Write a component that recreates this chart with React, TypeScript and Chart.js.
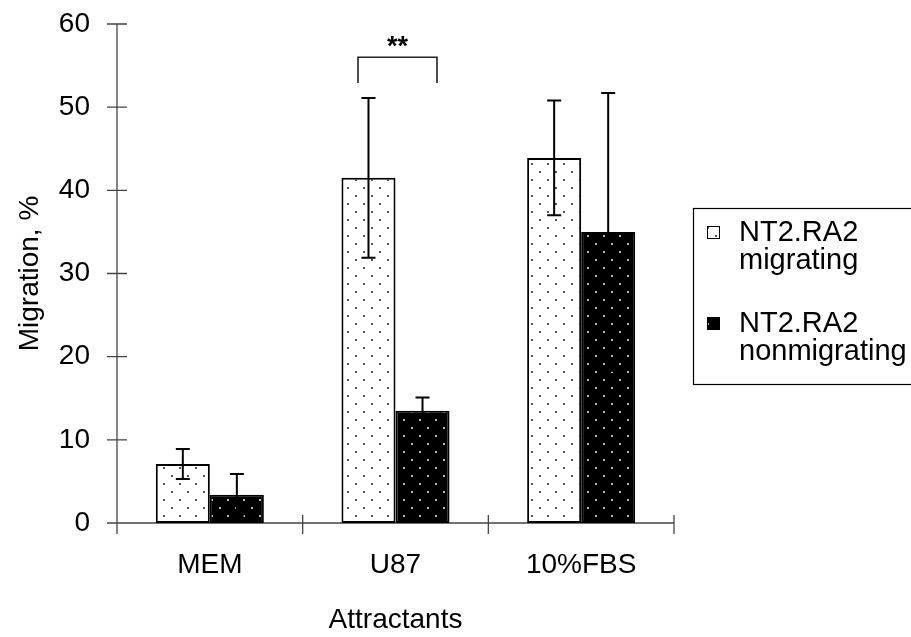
import React, { useEffect, useRef } from 'react';
import { Chart, registerables } from 'chart.js';

Chart.register(...registerables);

const categories = ['MEM', 'U87', '10%FBS'];
const legendLabels = [['NT2.RA2', 'migrating'], ['NT2.RA2', 'nonmigrating']];
const migrating = [7.1, 41.5, 43.9];
const migratingErr = [1.8, 9.6, 6.9];
const nonmigrating = [3.4, 13.5, 35.0];
const nonmigratingErr = [2.5, 1.6, 16.7];
const yTicks = [0, 10, 20, 30, 40, 50, 60];
const significance = '**';
const bracketTop = 56.0;
const bracketBottom = 52.9;

const FONT = '"Liberation Sans", Arial, sans-serif';

function makePattern(ctx: CanvasRenderingContext2D, bg: string, dot: string) {
  const c = document.createElement('canvas');
  c.width = 16;
  c.height = 16;
  const g = c.getContext('2d')!;
  g.fillStyle = bg;
  g.fillRect(0, 0, 16, 16);
  g.fillStyle = dot;
  g.fillRect(3, 3, 2, 2);
  g.fillRect(11, 11, 2, 2);
  return ctx.createPattern(c, 'repeat')!;
}

export default function App() {
  const ref = useRef<HTMLCanvasElement>(null);

  useEffect(() => {
    const canvas = ref.current!;
    const ctx0 = canvas.getContext('2d')!;
    const patMig = makePattern(ctx0, '#ffffff', '#555555');
    const patNon = makePattern(ctx0, '#000000', '#bbbbbb');

    const plugin = {
      id: 'custom',
      beforeDatasetsDraw(chart: any) {
        const { ctx, chartArea, scales } = chart;
        const y = scales.y;
        ctx.save();
        ctx.strokeStyle = '#444';
        ctx.lineWidth = 1.3;
        ctx.beginPath();
        ctx.moveTo(chartArea.left, chartArea.top);
        ctx.lineTo(chartArea.left, chartArea.bottom + 4);
        yTicks.forEach((v) => {
          const py = y.getPixelForValue(v);
          ctx.moveTo(chartArea.left - 10, py);
          ctx.lineTo(chartArea.left + 10, py);
        });
        ctx.moveTo(chartArea.left - 10, chartArea.bottom);
        ctx.lineTo(chartArea.right, chartArea.bottom);
        const n = categories.length;
        for (let i = 0; i <= n; i++) {
          const px = chartArea.left + ((chartArea.right - chartArea.left) * i) / n;
          ctx.moveTo(px, chartArea.bottom - 8);
          ctx.lineTo(px, chartArea.bottom + 11);
        }
        ctx.stroke();
        ctx.restore();
      },
      afterDatasetsDraw(chart: any) {
        const { ctx, scales } = chart;
        const y = scales.y;
        const sets = [
          [migrating, migratingErr],
          [nonmigrating, nonmigratingErr],
        ];
        ctx.save();
        ctx.strokeStyle = '#000';
        ctx.lineWidth = 2;
        sets.forEach(([vals, errs], di) => {
          const meta = chart.getDatasetMeta(di);
          meta.data.forEach((bar: any, i: number) => {
            const cx = bar.x;
            const hi = y.getPixelForValue(vals[i] + errs[i]);
            const lo = y.getPixelForValue(vals[i] - errs[i]);
            ctx.beginPath();
            ctx.moveTo(cx, lo);
            ctx.lineTo(cx, hi);
            ctx.moveTo(cx - 7, hi);
            ctx.lineTo(cx + 7, hi);
            ctx.moveTo(cx - 7, lo);
            ctx.lineTo(cx + 7, lo);
            ctx.stroke();
          });
        });
        const x = scales.x;
        const cxGroup = x.getPixelForValue(1) + 2;
        const yTop = y.getPixelForValue(bracketTop);
        const yBot = y.getPixelForValue(bracketBottom);
        ctx.lineWidth = 1.6;
        ctx.strokeStyle = '#222';
        ctx.beginPath();
        ctx.moveTo(cxGroup - 39.5, yBot);
        ctx.lineTo(cxGroup - 39.5, yTop);
        ctx.lineTo(cxGroup + 39.5, yTop);
        ctx.lineTo(cxGroup + 39.5, yBot);
        ctx.stroke();
        ctx.fillStyle = '#000';
        ctx.font = `bold 27px ${FONT}`;
        ctx.textAlign = 'center';
        ctx.textBaseline = 'alphabetic';
        ctx.fillText(significance, cxGroup, yTop - 2);
        ctx.restore();
      },
      afterDraw(chart: any) {
        const { ctx } = chart;
        ctx.save();
        ctx.strokeStyle = '#000';
        ctx.lineWidth = 1.2;
        ctx.strokeRect(693.5, 208.5, 300, 176);
        const pats = [patMig, patNon];
        const tops = [232, 323];
        ctx.font = `29px ${FONT}`;
        ctx.textBaseline = 'middle';
        ctx.textAlign = 'left';
        legendLabels.forEach((lines, i) => {
          const ty = tops[i];
          ctx.fillStyle = pats[i];
          ctx.fillRect(707, ty - 6, 13, 13);
          ctx.strokeStyle = '#000';
          ctx.lineWidth = 1;
          ctx.strokeRect(707.5, ty - 5.5, 12, 12);
          ctx.fillStyle = '#000';
          lines.forEach((t, j) => ctx.fillText(t, 739, ty + 1 + j * 28));
        });
        ctx.restore();
      },
    };

    const chart = new Chart(canvas, {
      type: 'bar',
      data: {
        labels: categories,
        datasets: [
          {
            label: legendLabels[0].join(' '),
            data: migrating,
            backgroundColor: patMig as any,
            borderColor: '#000',
            borderWidth: 2,
            borderSkipped: false,
          },
          {
            label: legendLabels[1].join(' '),
            data: nonmigrating,
            backgroundColor: patNon as any,
            borderColor: '#000',
            borderWidth: 2,
            borderSkipped: false,
          },
        ],
      },
      options: {
        animation: false,
        responsive: false,
        devicePixelRatio: 1,
        layout: { padding: { left: 0, top: 24, right: 237, bottom: 0 } },
        datasets: { bar: { categoryPercentage: 0.582, barPercentage: 1 } },
        plugins: { legend: { display: false }, tooltip: { enabled: false } },
        scales: {
          x: {
            grid: { display: false, drawTicks: false },
            border: { display: false },
            ticks: { color: '#000', padding: 25, maxRotation: 0, font: { family: FONT, size: 28, lineHeight: 1.2 } },
            title: {
              display: true,
              text: 'Attractants',
              color: '#000',
              font: { family: FONT, size: 28, lineHeight: 1.2 },
              padding: { top: 0, bottom: 0 },
            },
            afterFit: (s: any) => {
              s.height = 114;
              s.paddingLeft = 0;
              s.paddingRight = 0;
            },
          },
          y: {
            min: 0,
            max: 60,
            grid: { display: false, drawTicks: false },
            border: { display: false },
            afterBuildTicks: (s: any) => {
              s.ticks = yTicks.map((v) => ({ value: v }));
            },
            ticks: { color: '#000', padding: 27, font: { family: FONT, size: 28, lineHeight: 1.2 } },
            title: {
              display: true,
              text: 'Migration, %',
              color: '#000',
              font: { family: FONT, size: 28, lineHeight: 1.2 },
              padding: { top: 13, bottom: 0 },
            },
            afterFit: (s: any) => {
              s.width = 117;
              s.paddingTop = 0;
              s.paddingBottom = 0;
            },
          },
        },
      },
      plugins: [plugin],
    });
    return () => chart.destroy();
  }, []);

  return (
    <div style={{ position: 'absolute', left: 0, top: 0, width: 911, height: 637, background: '#fff' }}>
      <canvas ref={ref} width={911} height={637} style={{ display: 'block', width: 911, height: 637 }} />
    </div>
  );
}
